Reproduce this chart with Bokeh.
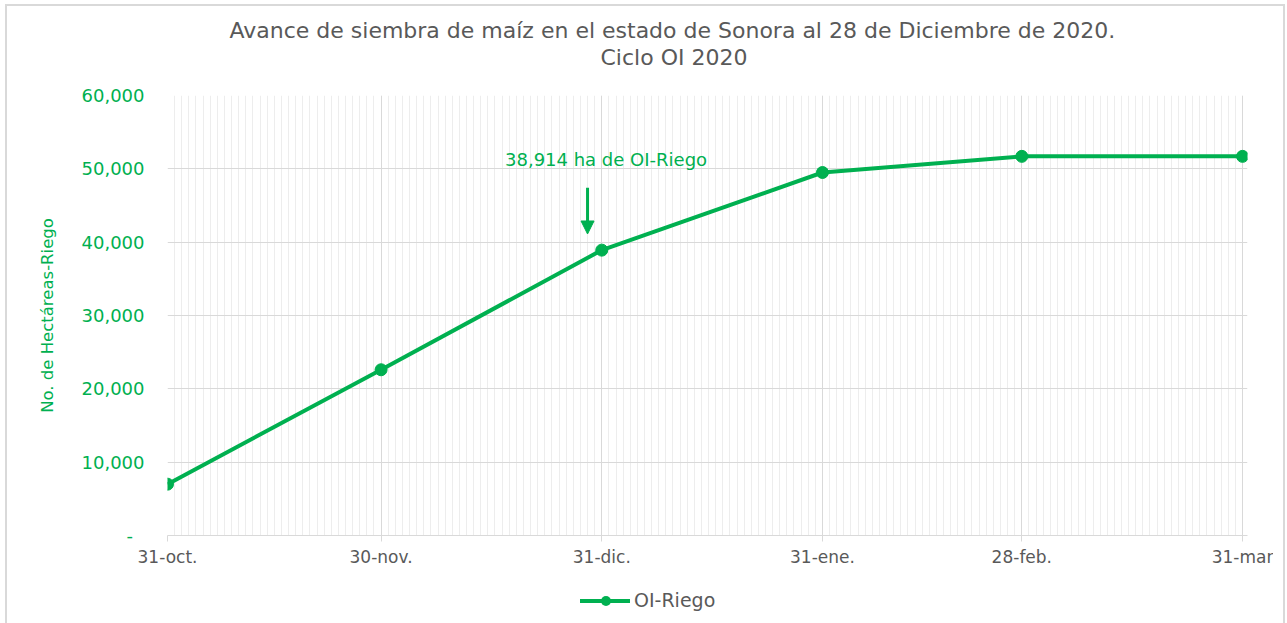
import pandas as pd
from bokeh.plotting import figure
from bokeh.layouts import column
from bokeh.models import (Range1d, FixedTicker, CustomJSTickFormatter, Div,
                          Arrow, NormalHead, Label, Title)
from bokeh.embed import file_html
from bokeh.resources import INLINE

# ---- data ----
fechas = ["2020-10-31", "2020-11-30", "2020-12-31", "2021-01-31", "2021-02-28", "2021-03-31"]
etiquetas = ["31-oct.", "30-nov.", "31-dic.", "31-ene.", "28-feb.", "31-mar"]
hectareas = [7000, 22600, 38914, 49500, 51700, 51700]
y_ticks = [0, 10000, 20000, 30000, 40000, 50000, 60000]

titulo_1 = "Avance de siembra de maíz en el estado de Sonora al 28 de Diciembre de 2020."
titulo_2 = "Ciclo OI 2020"
serie = "OI-Riego"
eje_y = "No. de Hectáreas-Riego"

GREEN = "#00B050"
GRAY = "#595959"
GRID = "#d9d9d9"
FONT = "DejaVu Sans"

inicio = pd.Timestamp(fechas[0])
dias = [(pd.Timestamp(f) - inicio).days for f in fechas]

p = figure(width=1266, height=569, frame_width=1080, frame_height=440,
           min_border_left=160, min_border_right=26, min_border_top=89, min_border_bottom=40,
           x_range=Range1d(0, dias[-1] + 0.7), y_range=Range1d(0, 60000),
           output_backend="svg", toolbar_location=None, title=None)
p.outline_line_color = None
p.background_fill_color = "white"

r_line = p.line(dias, hectareas, line_color=GREEN, line_width=4)
r_pts = p.scatter(dias, hectareas, size=12, fill_color=GREEN, line_color=GREEN)

# x axis
p.xaxis.ticker = FixedTicker(ticks=dias, minor_ticks=list(range(0, dias[-1] + 1)))
p.xaxis.major_label_overrides = {d: lab for d, lab in zip(dias, etiquetas)}
p.xaxis.axis_line_color = GRID
p.xaxis.major_tick_line_color = GRID
p.xaxis.major_tick_out = 6
p.xaxis.major_tick_in = 0
p.xaxis.minor_tick_line_color = None
p.xaxis.major_label_text_color = GRAY
p.xaxis.major_label_text_font = FONT
p.xaxis.major_label_text_font_size = "17px"
p.xaxis.major_label_standoff = 5

# y axis
p.yaxis.ticker = FixedTicker(ticks=y_ticks)
p.yaxis.formatter = CustomJSTickFormatter(
    code="return tick == 0 ? '-\\u00a0\\u00a0' : tick.toLocaleString('en-US');")
p.yaxis.axis_line_color = None
p.yaxis.major_tick_line_color = None
p.yaxis.minor_tick_line_color = None
p.yaxis.major_tick_out = 0
p.yaxis.major_tick_in = 0
p.yaxis.major_label_text_color = GREEN
p.yaxis.major_label_text_font = FONT
p.yaxis.major_label_text_font_size = "18px"
p.yaxis.major_label_standoff = 23
p.yaxis.axis_label = eje_y
p.yaxis.axis_label_text_color = GREEN
p.yaxis.axis_label_text_font = FONT
p.yaxis.axis_label_text_font_size = "16.5px"
p.yaxis.axis_label_text_font_style = "normal"
p.yaxis.axis_label_standoff = 22

# grids
p.xgrid.grid_line_color = GRID
p.xgrid.minor_grid_line_color = "#ededed"
p.ygrid.grid_line_color = GRID

# titles (added from the frame outward)
p.add_layout(Title(text=" ", text_font_size="12px"), "above")
p.add_layout(Title(text=titulo_2, align="left", offset=433, standoff=0, text_font=FONT,
                   text_font_size="22px", text_font_style="normal", text_color=GRAY), "above")
p.add_layout(Title(text=titulo_1, align="left", offset=62, standoff=0, text_font=FONT,
                   text_font_size="22px", text_font_style="normal", text_color=GRAY), "above")

# annotation
idx = 2
p.add_layout(Arrow(end=NormalHead(size=13, fill_color=GREEN, line_color=GREEN),
                   x_start=dias[idx] - 2, y_start=hectareas[idx] + 8500,
                   x_end=dias[idx] - 2, y_end=hectareas[idx] + 2200,
                   line_color=GREEN, line_width=3))
p.add_layout(Label(x=dias[idx] + 0.6, y=hectareas[idx] + 12400,
                   text=f"{hectareas[idx]:,} ha de {serie}", text_align="center",
                   text_baseline="middle", text_color=GREEN, text_font=FONT,
                   text_font_size="18px"))

# legend strip below the chart (HTML)
legend_html = (
    f'<div style="height:42px;display:flex;align-items:center;margin-left:568px;'
    f'font-family:\'{FONT}\';font-size:19px;color:{GRAY};white-space:nowrap">'
    f'<span style="position:relative;display:inline-block;width:50px;height:4px;'
    f'background:{GREEN};margin-right:4px">'
    f'<span style="position:absolute;left:21px;top:-3px;width:10px;height:10px;'
    f'border-radius:50%;background:{GREEN}"></span></span>{serie}</div>'
)
leyenda = Div(text=legend_html, width=1266, height=46)

layout = column(p, leyenda, spacing=0,
                styles={"margin-left": "5px", "margin-top": "4px",
                        "border-top": "2px solid #d9d9d9", "border-left": "2px solid #d9d9d9",
                        "border-right": "2px solid #d9d9d9"})

open("out.html", "w").write(file_html(layout, INLINE))
